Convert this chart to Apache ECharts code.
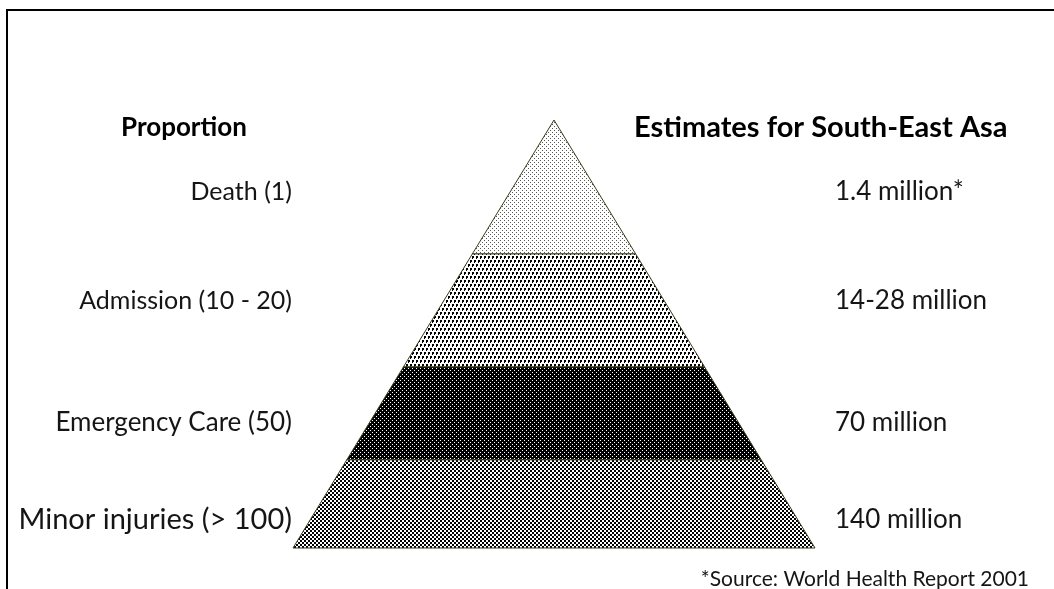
<!DOCTYPE html>
<html>
<head>
<meta charset="utf-8">
<script src="https://cdn.jsdelivr.net/npm/echarts@6/dist/echarts.min.js"></script>
<style>
  html, body { margin: 0; padding: 0; background: #fff; }
  #main { width: 1054px; height: 589px; }
</style>
</head>
<body>
<div id="main"></div>
<script>
// pyramid tiers, top to bottom
const levels = ['Death (1)', 'Admission (10 - 20)', 'Emergency Care (50)', 'Minor injuries (> 100)'];
const estimates = ['1.4 million*', '14-28 million', '70 million', '140 million'];
// tier boundaries, as % of pyramid height measured from the base
const bandEdges = [100, 68.7, 42.3, 20.6, 0];

const leftTitle = 'Proportion';
const rightTitle = 'Estimates for South-East Asa';
const sourceNote = '*Source: World Health Report 2001';

const FONT = 'Lato';

// small canvas tiles for the dotted fills
function makeTile(w, h, bg, fg, cells) {
  let c = document.createElement('canvas');
  c.width = w;
  c.height = h;
  let ctx = c.getContext('2d');
  ctx.fillStyle = bg;
  ctx.fillRect(0, 0, w, h);
  ctx.fillStyle = fg;
  cells.forEach(function (r) {
    ctx.fillRect(r[0], r[1], r[2], r[3]);
  });
  return { image: c, repeat: 'repeat' };
}

const fills = [
  makeTile(4, 4, '#ffffff', '#555555', [[0, 0, 1, 1], [2, 2, 1, 1]]),
  makeTile(4, 8, '#ffffff', '#000000', [[0, 0, 2, 2], [2, 4, 2, 2], [0, 2, 1, 1], [2, 6, 1, 1]]),
  makeTile(4, 4, '#000000', '#ffffff', [[0, 0, 1, 1], [2, 2, 1, 1]]),
  makeTile(4, 4, '#ffffff', '#000000', [[0, 0, 2, 2], [2, 2, 2, 2]])
];
// vertical nudge of the side labels from the tier middle (px)
const labelNudge = [5, -10, 9, 16];
// per-label font size of the left column
const leftSize = [25, 25, 26, 29];

let chart = echarts.init(document.getElementById('main'));

function renderTier(params, api) {
  let lo = api.value(0);
  let hi = api.value(1);
  let i = params.dataIndex;
  let pts = [
    api.coord([-(1 - hi / 100), hi]),
    api.coord([1 - hi / 100, hi]),
    api.coord([1 - lo / 100, lo]),
    api.coord([-(1 - lo / 100), lo])
  ];
  let midY = (pts[0][1] + pts[2][1]) / 2 + labelNudge[i];
  let baseL = api.coord([-1, 0])[0];
  let baseR = api.coord([1, 0])[0];
  return {
    type: 'group',
    children: [
      {
        type: 'polygon',
        shape: { points: pts },
        style: { fill: fills[i], stroke: '#3a3a1c', lineWidth: 1 }
      },
      {
        type: 'text',
        style: {
          x: baseL - 1, y: midY, text: levels[i],
          align: 'right', verticalAlign: 'middle',
          font: leftSize[i] + 'px ' + FONT, fill: '#151515'
        }
      },
      {
        type: 'text',
        style: {
          x: baseR + 20, y: midY, text: estimates[i],
          align: 'left', verticalAlign: 'middle',
          font: '26px ' + FONT, fill: '#151515'
        }
      }
    ]
  };
}

chart.setOption({
  animation: false,
  grid: { left: 293, width: 522, top: 120, height: 428 },
  xAxis: { type: 'value', min: -1, max: 1, show: false },
  yAxis: { type: 'value', min: 0, max: 100, show: false },
  graphic: [
    { type: 'line', shape: { x1: 6, y1: 10, x2: 1054, y2: 10 }, style: { stroke: '#000', lineWidth: 2 } },
    { type: 'line', shape: { x1: 7, y1: 9, x2: 7, y2: 589 }, style: { stroke: '#000', lineWidth: 2 } },
    {
      type: 'text', left: 121, top: 115,
      style: { text: leftTitle, font: 'bold 26px ' + FONT, fill: '#000' }
    },
    {
      type: 'text', left: 634, top: 113,
      style: { text: rightTitle, font: 'bold 29px ' + FONT, fill: '#000' }
    },
    {
      type: 'text', right: 25, top: 569,
      style: { text: sourceNote, font: '21px ' + FONT, fill: '#151515' }
    }
  ],
  series: [{
    type: 'custom',
    renderItem: renderTier,
    coordinateSystem: 'cartesian2d',
    data: levels.map(function (name, i) {
      return [bandEdges[i + 1], bandEdges[i]];
    })
  }]
});
</script>
</body>
</html>
